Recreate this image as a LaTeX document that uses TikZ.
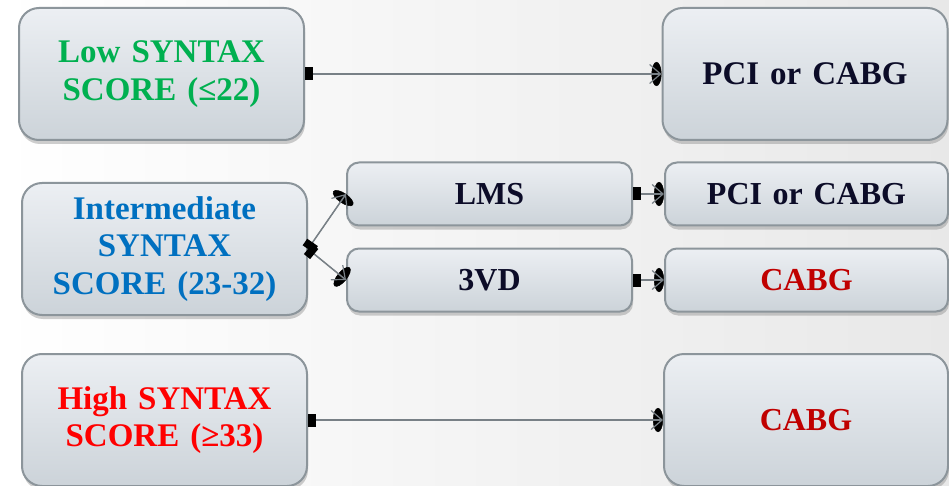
\documentclass[tikz,border=0pt]{standalone}
\usepackage{fontspec}
\setmainfont{Liberation Serif}
\usetikzlibrary{arrows.meta,shadows}
\definecolor{lowgreen}{RGB}{0,176,80}
\definecolor{midblue}{RGB}{0,112,192}
\definecolor{highred}{RGB}{255,0,0}
\definecolor{cabgred}{RGB}{192,0,0}
\definecolor{darktext}{RGB}{12,12,40}
\definecolor{boxtop}{RGB}{236,239,243}
\definecolor{boxbot}{RGB}{204,211,217}
\definecolor{boxline}{RGB}{140,149,155}
\definecolor{linegray}{RGB}{120,128,134}
\tikzset{
  scorebox/.style={draw=boxline,line width=2pt,rounded corners=20pt,
    top color=boxtop,bottom color=boxbot,
    minimum width=285pt,minimum height=132pt,text width=275pt,align=center,
    font=\bfseries\fontsize{33}{37.5}\selectfont,
    drop shadow={shadow xshift=1pt,shadow yshift=-4pt,opacity=0.35,fill=black!55}},
  smallbox/.style={scorebox,rounded corners=12pt,minimum height=63pt,
    font=\bfseries\fontsize{32}{36}\selectfont},
  conn/.style={draw=linegray,line width=1.5pt,
    {Square[black,length=8pt,width=13pt]}-{Straight Barb[linegray,length=11pt,width=19pt,line width=1.2pt]},
    preaction={draw=black,line width=0.5pt,-{Circle[black,length=10pt,width=24pt]}}}
}
\begin{document}
\begin{tikzpicture}[x=1pt,y=-1pt]
  \clip (0,0) rectangle (949,486);
  \fill[left color=white,right color=black!9] (0,0) rectangle (949,486);
  % scores
  \node[scorebox,text=lowgreen] (low) at (161.5,74) {Low SYNTAX\\SCORE (≤22)};
  \node[scorebox,text=midblue] (mid) at (164.5,249) {Intermediate\\SYNTAX\\SCORE (23-32)};
  \node[scorebox,text=highred] (high) at (164.5,420) {High SYNTAX\\SCORE (≥33)};
  % anatomy
  \node[smallbox,text=darktext] (lms) at (489.5,194) {LMS};
  \node[smallbox,text=darktext] (tvd) at (489.5,280) {3VD};
  % treatment
  \node[scorebox,text=darktext] (lowres) at (805,74) {PCI or CABG};
  \node[smallbox,text=darktext,minimum width=283pt] (lmsres) at (806.5,194) {PCI or CABG};
  \node[smallbox,text=cabgred,minimum width=283pt] (tvdres) at (806.5,280) {CABG};
  \node[scorebox,text=cabgred,minimum width=284pt,font=\bfseries\fontsize{32}{36}\selectfont] (highres) at (806,420) {CABG};
  % connectors
  \draw[conn] (low.east) -- (lowres.west);
  \draw[conn] (mid.east) -- (lms.west);
  \draw[conn] (mid.east) -- (tvd.west);
  \draw[conn] (lms.east) -- (lmsres.west);
  \draw[conn] (tvd.east) -- (tvdres.west);
  \draw[conn] (high.east) -- (highres.west);
\end{tikzpicture}
\end{document}
